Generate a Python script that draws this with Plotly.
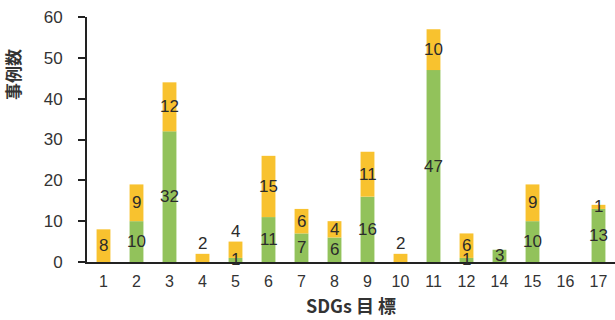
import plotly.graph_objects as go

# SDG goals (13 has no cases and is omitted from the axis)
goals = ["1", "2", "3", "4", "5", "6", "7", "8", "9", "10", "11", "12", "14", "15", "16", "17"]
green_counts = [0, 10, 32, 0, 1, 11, 7, 6, 16, 0, 47, 1, 3, 10, 0, 13]
yellow_counts = [8, 9, 12, 2, 4, 15, 6, 4, 11, 2, 10, 6, 0, 9, 0, 1]
y_ticks = [0, 10, 20, 30, 40, 50, 60]

GREEN = "#92c25b"
YELLOW = "#f8c22f"
TEXT = "#2b2b2b"
FONT = "Liberation Sans, Arial, sans-serif"

fig = go.Figure()
fig.add_trace(go.Bar(x=goals, y=green_counts, marker=dict(color=GREEN, line=dict(width=0)),
                     hoverinfo="skip"))
fig.add_trace(go.Bar(x=goals, y=yellow_counts, base=green_counts,
                     marker=dict(color=YELLOW, line=dict(width=0)), hoverinfo="skip"))

# value labels, placed by category index on the category axis
annotations = []
for i, (gv, yv) in enumerate(zip(green_counts, yellow_counts)):
    total = gv + yv
    if gv > 0:
        annotations.append(dict(x=i, y=gv / 2, text=str(gv), showarrow=False,
                                xref="x", yref="y", yanchor="middle"))
    if yv > 0:
        if total <= 5:
            # short bars carry their top label above the bar
            annotations.append(dict(x=i, y=total, text=str(yv), showarrow=False,
                                    xref="x", yref="y", yanchor="bottom", yshift=-1))
        else:
            annotations.append(dict(x=i, y=gv + yv / 2, text=str(yv), showarrow=False,
                                    xref="x", yref="y", yanchor="middle"))
for a in annotations:
    a["font"] = dict(family=FONT, size=17, color=TEXT)

annotations.append(dict(text="<b>事例数</b>", textangle=-90, showarrow=False,
                        xref="paper", yref="paper", x=-0.142, y=0.763,
                        xanchor="center", yanchor="middle",
                        font=dict(family="Noto Sans CJK JP", size=17, color="#333")))
annotations.append(dict(text="<b>SDGs 目 標</b>", showarrow=False,
                        xref="paper", yref="paper", x=0.5, y=-0.175,
                        xanchor="center", yanchor="middle",
                        font=dict(family="Noto Sans CJK JP", size=18, color="#333")))

fig.update_layout(
    width=615, height=320,
    margin=dict(l=87, r=0, t=17, b=58),
    barmode="overlay",
    bargap=0.58,
    showlegend=False,
    plot_bgcolor="white",
    paper_bgcolor="white",
    annotations=annotations,
    font=dict(family=FONT, color=TEXT),
)
fig.update_xaxes(
    type="category", categoryorder="array", categoryarray=goals,
    showline=True, linecolor="#222", linewidth=2,
    ticks="", showgrid=False, zeroline=False,
    tickfont=dict(family=FONT, size=16, color="#333"),
    ticklabelstandoff=4,
)
fig.update_yaxes(
    range=[0, 60], tickvals=y_ticks,
    showline=True, linecolor="#222", linewidth=2,
    ticks="outside", ticklen=7, tickwidth=2, tickcolor="#222",
    showgrid=False, zeroline=False,
    tickfont=dict(family=FONT, size=17, color="#333"),
    ticklabelstandoff=12,
)

fig.write_html("out.html")
